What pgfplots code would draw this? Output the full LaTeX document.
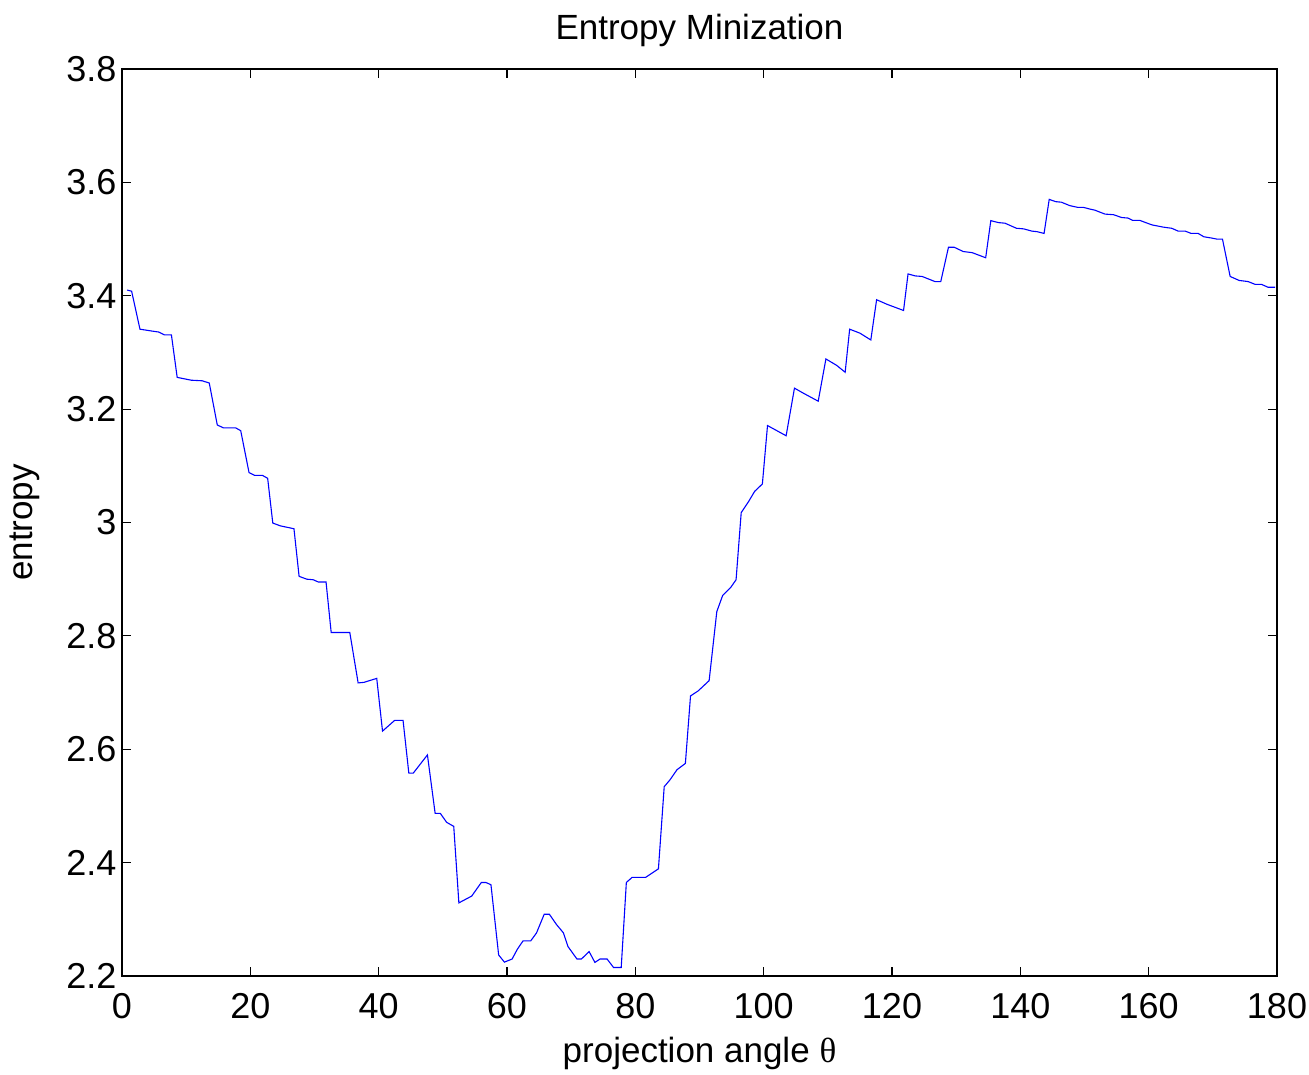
\documentclass[border=0pt]{standalone}
\usepackage{pgfplots}
\pgfplotsset{compat=1.18}
\usepackage{fontspec}
\setmainfont{Liberation Sans}
\newfontfamily\symfont{Liberation Serif}
\begin{document}
\begin{tikzpicture}
\useasboundingbox (-122pt,-98pt) rectangle (1187pt,976pt);
\begin{axis}[
  scale only axis,
  width=1155pt, height=907pt,
  xmin=0, xmax=180, ymin=2.2, ymax=3.8,
  xtick={0,20,...,180},
  ytick={2.2,2.4,...,3.8},
  yticklabels={2.2,2.4,2.6,2.8,3,3.2,3.4,3.6,3.8},
  tick align=inside,
  major tick length=9pt,
  tick style={black, line width=1.2pt},
  axis line style={black, line width=1.2pt},
  /pgf/number format/assume math mode=true,
  ticklabel style={font=\fontsize{36}{40}\selectfont},
  xticklabel style={yshift=-14pt},
  yticklabel style={xshift=-2pt},
  title={Entropy Minization},
  title style={font=\fontsize{35}{40}\selectfont, at={(0.5,1)}, anchor=base, yshift=23pt},
  xlabel={projection angle {\symfont θ}},
  xlabel style={font=\fontsize{35}{40}\selectfont, at={(0.5,0)}, anchor=base, yshift=-86pt},
  ylabel={entropy},
  ylabel style={font=\fontsize{35}{40}\selectfont, at={(0,0.5)}, anchor=base, yshift=89pt},
  clip=true,
]
\addplot[color={rgb,1:red,0;green,0;blue,1}, line width=1.1pt] coordinates {
(0.8,3.410) (1.5,3.408) (2.8,3.341) (4.5,3.338) (5.7,3.336) (6.6,3.331) (7.7,3.331)
(8.6,3.256) (10.8,3.251) (12.5,3.250) (13.6,3.246)
(14.85,3.172) (15.8,3.167) (17.7,3.167) (18.5,3.162)
(19.8,3.088) (20.7,3.083) (21.9,3.083) (22.7,3.078)
(23.5,2.999) (24.7,2.994) (26.8,2.989)
(27.6,2.905) (28.8,2.900) (29.8,2.899) (30.6,2.895) (31.8,2.895)
(32.6,2.806) (35.5,2.806)
(36.8,2.717) (37.7,2.718) (39.7,2.725)
(40.6,2.632) (42.5,2.651) (43.8,2.651)
(44.7,2.558) (45.4,2.558) (47.6,2.590)
(48.8,2.487) (49.6,2.487) (50.6,2.471) (51.7,2.464)
(52.5,2.329) (54.5,2.341) (56.0,2.365) (56.7,2.365) (57.5,2.361)
(58.7,2.237) (59.6,2.2245) (60.8,2.230) (61.6,2.247) (62.5,2.262) (63.7,2.262)
(64.6,2.276) (65.8,2.309) (66.6,2.309) (67.7,2.291) (68.8,2.276) (69.5,2.252)
(70.9,2.230) (71.6,2.230) (72.8,2.243) (73.7,2.224) (74.5,2.230) (75.6,2.230)
(76.6,2.215) (77.8,2.215)
(78.6,2.365) (79.5,2.374) (81.6,2.374) (82.8,2.383) (83.6,2.389)
(84.5,2.534) (85.4,2.546) (86.5,2.564) (87.8,2.575)
(88.6,2.694) (89.8,2.703) (91.5,2.721)
(92.7,2.843) (93.6,2.871) (94.9,2.886) (95.7,2.899)
(96.5,3.0175) (97.6,3.036) (98.6,3.055) (99.8,3.068)
(100.6,3.171) (103.5,3.153)
(104.8,3.237) (106.2,3.228) (108.5,3.214)
(109.7,3.2885) (111.4,3.277) (112.7,3.265)
(113.4,3.341) (115.0,3.334) (116.7,3.322)
(117.6,3.393) (119.2,3.385) (121.8,3.374)
(122.5,3.4385) (123.6,3.435) (124.7,3.434) (126.7,3.425) (127.6,3.425)
(128.8,3.4855) (129.7,3.4855) (131.1,3.478) (132.5,3.476) (134.6,3.467)
(135.4,3.5325) (136.6,3.529) (137.6,3.528) (139.4,3.519) (140.5,3.518) (141.8,3.514) (142.6,3.513) (143.7,3.510)
(144.5,3.570) (145.5,3.566) (146.4,3.565) (147.7,3.559) (148.9,3.556) (149.8,3.556)
(150.8,3.553) (151.6,3.551) (153.2,3.544) (154.5,3.543) (155.8,3.538) (156.8,3.537)
(157.5,3.533) (158.6,3.533) (160.5,3.525) (162.3,3.521) (163.6,3.519) (164.6,3.514)
(165.7,3.514) (166.6,3.510) (167.7,3.510) (168.6,3.504) (169.7,3.502) (170.6,3.500) (171.5,3.500)
(172.7,3.434) (174.1,3.427) (175.5,3.425) (176.6,3.420) (177.6,3.420) (178.6,3.415) (179.7,3.415)
};
\end{axis}
\end{tikzpicture}
\end{document}
